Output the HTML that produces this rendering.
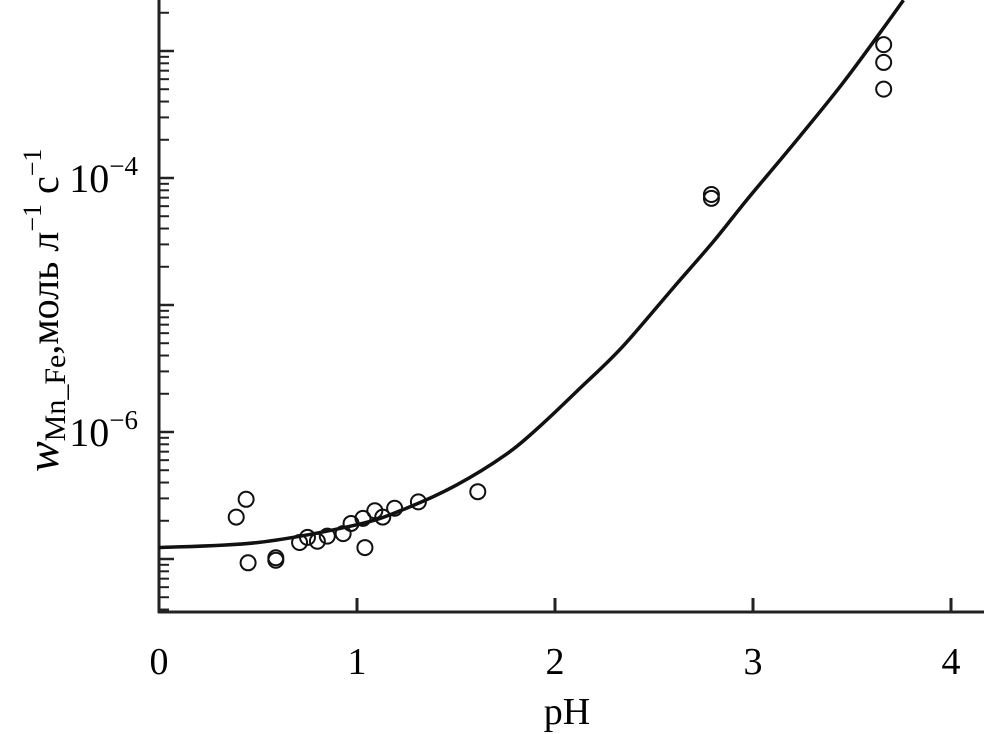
<!DOCTYPE html>
<html><head><meta charset="utf-8"><style>
html,body{margin:0;padding:0;background:#fff;}
svg{display:block;font-family:"Liberation Serif",serif;}
</style></head><body>
<svg id="chart" width="984" height="734">
<g id="axes"></g>
<g id="marks"></g>
<text x="567" y="724" font-size="38" text-anchor="middle">pH</text>
<text transform="translate(58,472) rotate(-90)" font-size="40"><tspan font-style="italic" font-size="46">w</tspan><tspan font-size="30" dy="7">Mn_Fe</tspan><tspan dy="-7">,моль л</tspan><tspan font-size="26" dy="-17">−1</tspan><tspan dy="17"> с</tspan><tspan font-size="26" dy="-17">−1</tspan></text>
</svg>
<script>
const xTicks=[0,1,2,3,4];
const yMajor=[-6,-4];
const curvePH=[0,0.5,1,1.25,1.5,1.75,1.92,2.13,2.34,2.6,2.8,2.97,3.19,3.44,3.64,3.76];
const curveLog=[-6.91,-6.87,-6.73,-6.6,-6.42,-6.18,-5.96,-5.65,-5.33,-4.86,-4.5,-4.17,-3.76,-3.28,-2.86,-2.6];
const ptPH=[0.39,0.44,0.45,0.59,0.59,0.71,0.75,0.8,0.85,0.93,0.97,1.03,1.04,1.09,1.13,1.19,1.31,1.61,2.79,2.79,3.66,3.66,3.66];
const ptLog=[-6.67,-6.53,-7.03,-6.99,-7.01,-6.87,-6.83,-6.86,-6.82,-6.80,-6.72,-6.68,-6.91,-6.62,-6.67,-6.60,-6.55,-6.47,-4.16,-4.13,-2.95,-3.09,-3.30];
const X=v=>159+v*198, Y=l=>432-(l+6)*127;
const NS="http://www.w3.org/2000/svg";
const ax=document.getElementById('axes'), mk=document.getElementById('marks');
function mkEl(t,a,p){const e=document.createElementNS(NS,t);for(const k in a)e.setAttribute(k,a[k]);p.appendChild(e);return e;}
let e=mkEl('line',{x1:159,y1:0,x2:159,y2:613,stroke:'#222','stroke-width':3},ax);


e=mkEl('line',{x1:158,y1:612,x2:984,y2:612,stroke:'#222','stroke-width':3},ax);


xTicks.forEach(t=>{
 const l=mkEl('line',{x1:X(t),y1:612,x2:X(t),y2:598,stroke:'#222','stroke-width':3},ax);
 
 
 const tx=mkEl('text',{x:X(t),y:674,'font-size':38,'text-anchor':'middle'},ax);tx.textContent=t;
 
 
});
for(let d=-8;d<=-2;d++){for(let m=1;m<=9;m++){
 const l=Math.log10(m)+d;const y=Y(l);if(y<2||y>610)continue;
 const t=mkEl('line',{x1:159,y1:y,x2:m===1?174:169,y2:y,stroke:'#222','stroke-width':m===1?2.5:2},ax);
 
 
}}
yMajor.forEach(p=>{
 const t=mkEl('text',{x:138,y:Y(p)+14,'font-size':40,'text-anchor':'end'},ax);
 t.innerHTML='10<tspan font-size="27" dy="-17">−'+(-p)+'</tspan>';
 
 
});
let d='';
const pts=curvePH.map((v,i)=>[X(v),Y(curveLog[i])]);
d='M'+pts[0][0]+','+pts[0][1];
for(let i=0;i<pts.length-1;i++){
 const p0=pts[Math.max(0,i-1)],p1=pts[i],p2=pts[i+1],p3=pts[Math.min(pts.length-1,i+2)];
 const c1=[p1[0]+(p2[0]-p0[0])/6,p1[1]+(p2[1]-p0[1])/6],c2=[p2[0]-(p3[0]-p1[0])/6,p2[1]-(p3[1]-p1[1])/6];
 d+=' C'+c1+' '+c2+' '+p2;
}
const c=mkEl('path',{d:d,fill:'none',stroke:'#111','stroke-width':3.5},mk);


ptPH.forEach((v,i)=>{
 const p=mkEl('circle',{cx:X(v),cy:Y(ptLog[i]),r:7.5,fill:'none',stroke:'#111','stroke-width':2},mk);
 
 
});
</script>
</body></html>
